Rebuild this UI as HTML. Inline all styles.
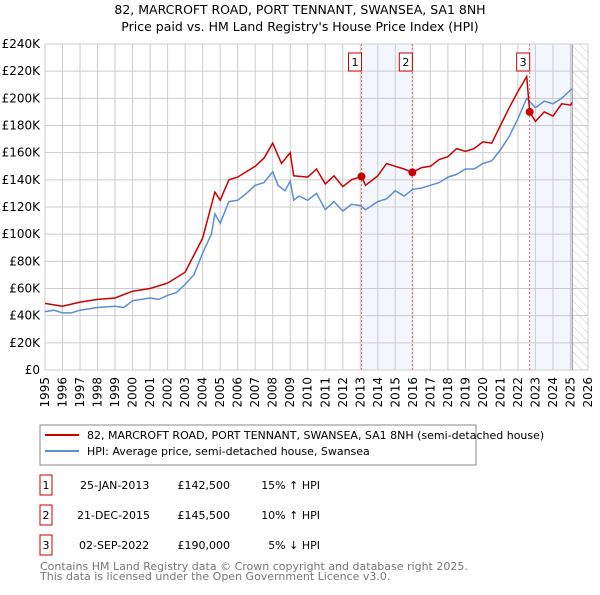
<!DOCTYPE html>
<html><head><meta charset="utf-8"><style>
body{margin:0;background:#fff;font-family:"Liberation Sans","DejaVu Sans",sans-serif;}
svg text{font-family:"DejaVu Sans","Liberation Sans",sans-serif;}
</style></head><body>
<svg id="c" width="600" height="590" xmlns="http://www.w3.org/2000/svg">
<defs><pattern id="hatch" width="6" height="6" patternUnits="userSpaceOnUse" patternTransform="rotate(-45)"><line x1="0" y1="0" x2="0" y2="6" stroke="#ccc" stroke-width="1"/></pattern></defs>
<text x="300" y="14" text-anchor="middle" font-size="12.5">82, MARCROFT ROAD, PORT TENNANT, SWANSEA, SA1 8NH</text>
<text x="300" y="31" text-anchor="middle" font-size="12.5">Price paid vs. HM Land Registry's House Price Index (HPI)</text>
<g id="plot"></g>
<rect x="40" y="425" width="436" height="40" fill="#fff" stroke="#888"/>
<line x1="45" y1="435" x2="79" y2="435" stroke="#cc0000" stroke-width="2"/>
<text x="87" y="439" font-size="11">82, MARCROFT ROAD, PORT TENNANT, SWANSEA, SA1 8NH (semi-detached house)</text>
<line x1="45" y1="451" x2="79" y2="451" stroke="#5b8fd4" stroke-width="2"/>
<text x="87" y="455" font-size="11">HPI: Average price, semi-detached house, Swansea</text>
<g font-size="11">
<rect x="40" y="475" width="12" height="20" fill="#fff" stroke="#cc0000"/><text x="46" y="489" text-anchor="middle">1</text>
<text x="80" y="489">25-JAN-2013</text><text x="230" y="489" text-anchor="end">£142,500</text><text x="320" y="489" text-anchor="end">15% ↑ HPI</text>
<rect x="40" y="505" width="12" height="20" fill="#fff" stroke="#cc0000"/><text x="46" y="519" text-anchor="middle">2</text>
<text x="77" y="519">21-DEC-2015</text><text x="230" y="519" text-anchor="end">£145,500</text><text x="320" y="519" text-anchor="end">10% ↑ HPI</text>
<rect x="40" y="535" width="12" height="20" fill="#fff" stroke="#cc0000"/><text x="46" y="549" text-anchor="middle">3</text>
<text x="79" y="549">02-SEP-2022</text><text x="230" y="549" text-anchor="end">£190,000</text><text x="320" y="549" text-anchor="end">5% ↓ HPI</text>
</g>
<text x="40" y="570" font-size="11" fill="#777">Contains HM Land Registry data © Crown copyright and database right 2025.</text>
<text x="40" y="580" font-size="11" fill="#777">This data is licensed under the Open Government Licence v3.0.</text>
</svg>
<script>
const hpiYears=[1995,1995.5,1996,1996.5,1997,1998,1999,1999.5,2000,2001,2001.5,2002,2002.5,2003,2003.5,2004,2004.5,2004.7,2005,2005.5,2006,2006.5,2007,2007.5,2008,2008.3,2008.7,2009,2009.2,2009.5,2010,2010.5,2011,2011.5,2012,2012.5,2013,2013.3,2014,2014.5,2015,2015.5,2016,2016.5,2017,2017.5,2018,2018.5,2019,2019.5,2020,2020.5,2021,2021.5,2022,2022.5,2023,2023.5,2024,2024.5,2025,2025.1];
const hpiValues=[43,44,42,42,44,46,47,46,51,53,52,55,57,63,70,86,100,115,108,124,125,130,136,138,146,136,132,139,125,128,125,130,118,124,117,122,121,118,124,126,132,128,133,134,136,138,142,144,148,148,152,154,162,172,185,200,193,198,196,200,206,207];
const priceYears=[1995,1996,1997,1998,1999,2000,2001,2002,2003,2004,2004.7,2005,2005.5,2006,2007,2007.5,2008,2008.5,2009,2009.2,2010,2010.5,2011,2011.5,2012,2012.5,2013.07,2013.3,2014,2014.5,2015,2015.5,2015.97,2016.5,2017,2017.5,2018,2018.5,2019,2019.5,2020,2020.5,2021,2021.5,2022,2022.5,2022.67,2023,2023.5,2024,2024.5,2025,2025.1];
const priceValues=[49,47,50,52,53,58,60,64,72,97,131,125,140,142,150,156,167,152,160,143,142,148,137,143,135,140,142.5,136,143,152,150,148,145.5,149,150,155,157,163,161,163,168,167,180,193,205,216,190,183,190,187,196,195,197];
const saleYears=[2013.07,2015.97,2022.67];
const saleValues=[142.5,145.5,190];
const saleLabels=["1","2","3"];
const yTicks=[0,20,40,60,80,100,120,140,160,180,200,220,240];
const xTicks=[1995,1996,1997,1998,1999,2000,2001,2002,2003,2004,2005,2006,2007,2008,2009,2010,2011,2012,2013,2014,2015,2016,2017,2018,2019,2020,2021,2022,2023,2024,2025,2026];
const X0=45,X1=588,Y0=370,Y1=44;
const x=v=>X0+(v-1995)/(2026-1995)*(X1-X0);
const y=v=>Y0-(v/240)*(Y0-Y1);
const ns="http://www.w3.org/2000/svg",g=document.getElementById('plot');
function mk(t,a){const e=document.createElementNS(ns,t);for(const k in a)e.setAttribute(k,a[k]);g.appendChild(e);return e;}
let e;
e=mk('rect',{x:x(saleYears[0]),y:Y1,width:x(saleYears[1])-x(saleYears[0]),height:Y0-Y1,fill:'#eef3fc',opacity:0.7});


e=mk('rect',{x:x(saleYears[2]),y:Y1,width:x(2025.1)-x(saleYears[2]),height:Y0-Y1,fill:'#eef3fc',opacity:0.7});


e=mk('rect',{x:x(2025.1),y:Y1,width:X1-x(2025.1),height:Y0-Y1,fill:'url(#hatch)'});


yTicks.forEach(t=>{
 e=mk('line',{x1:X0,x2:X1,y1:y(t),y2:y(t),stroke:'#ccc'});
 
 
 e=mk('text',{x:X0-5,y:y(t)+4,'text-anchor':'end','font-size':'12'});e.textContent='£'+t+(t?'K':'');
 
 
});
xTicks.forEach(t=>{
 e=mk('line',{x1:x(t),x2:x(t),y1:Y1,y2:Y0,stroke:'#ccc'});
 
 
 const tx=x(t)+4,ty=Y0+7;
 e=mk('text',{x:tx,y:ty,'text-anchor':'end','font-size':'12',transform:'rotate(-90 '+tx+' '+ty+')'});e.textContent=t;
 
 
});
e=mk('line',{x1:x(2025.1),x2:x(2025.1),y1:Y1,y2:Y0,stroke:'#888'});


e=mk('rect',{x:X0,y:Y1,width:X1-X0,height:Y0-Y1,fill:'none',stroke:'#ccc'});


saleYears.forEach((s,i)=>{
 e=mk('line',{x1:x(s),x2:x(s),y1:Y1,y2:Y0,stroke:'#e66','stroke-dasharray':'2,2'});
 
 
});
e=mk('path',{d:hpiYears.map((v,i)=>(i?'L':'M')+x(v).toFixed(1)+','+y(hpiValues[i]).toFixed(1)).join(''),fill:'none',stroke:'#5b8fd4','stroke-width':1.5});


e=mk('path',{d:priceYears.map((v,i)=>(i?'L':'M')+x(v).toFixed(1)+','+y(priceValues[i]).toFixed(1)).join(''),fill:'none',stroke:'#cc0000','stroke-width':1.5});


saleYears.forEach((s,i)=>{
 e=mk('circle',{cx:x(s),cy:y(saleValues[i]),r:4,fill:'#cc0000'});
 
 
 e=mk('rect',{x:x(s)-13,y:53,width:13,height:18,fill:'#fff',stroke:'#cc0000'});
 
 
 e=mk('text',{x:x(s)-6.5,y:66,'text-anchor':'middle','font-size':'11'});e.textContent=saleLabels[i];
 
 
});
</script>
</body></html>
